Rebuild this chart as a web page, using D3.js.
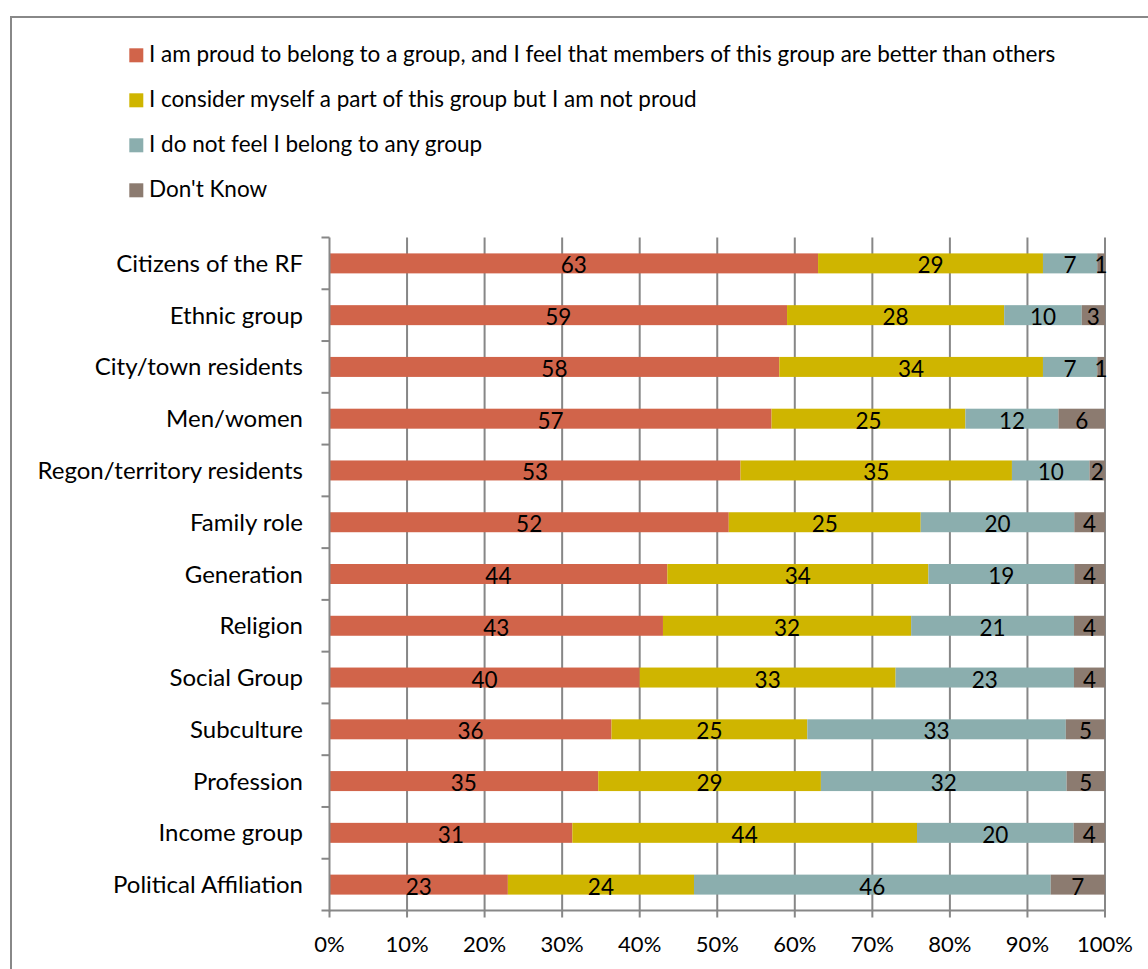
<!DOCTYPE html>
<html><head><meta charset="utf-8">
<script src="https://cdn.jsdelivr.net/npm/d3@7"></script>
<style>body{margin:0;background:#fff}svg{display:block}text{font-family:Lato,"Open Sans",sans-serif;fill:#000}</style>
</head><body><svg id="c" width="1148" height="969"></svg>
<script>
const categories = ["Citizens of the RF","Ethnic group","City/town residents","Men/women","Regon/territory residents","Family role","Generation","Religion","Social Group","Subculture","Profession","Income group","Political Affiliation"];
const seriesNames = ["I am proud to belong to a group, and I feel that members of this group are better than others","I consider myself a part of this group but I am not proud","I do not feel I belong to any group","Don't Know"];
const proud =    [63,59,58,57,53,52,44,43,40,36,35,31,23];
const notProud = [29,28,34,25,35,25,34,32,33,25,29,44,24];
const noGroup =  [7,10,7,12,10,20,19,21,23,33,32,20,46];
const dontKnow = [1,3,1,6,2,4,4,4,4,5,5,4,7];
const tickLabels = ["0%","10%","20%","30%","40%","50%","60%","70%","80%","90%","100%"];
const colors = ["#D1644A","#CFB500","#8BAEAE","#8C7B70"];

(function(){
const svg = d3.select("#c");
svg.append("rect").attr("x",11).attr("y",17).attr("width",1200).attr("height",1000).attr("fill","none").attr("stroke","#888").attr("stroke-width",2);

const pL=329.5,pR=1105,pT=237.5,pB=910.5;
const x = d3.scaleLinear().domain([0,1]).range([pL,pR]);
const y = d3.scaleBand().domain(categories).range([pT,pB]).paddingInner(0.614).paddingOuter(0.307);
const yb = d3.scaleBand().domain(categories).range([pT,pB]);

svg.append("g").selectAll("line").data(d3.range(1,11).map(i=>i/10)).join("line")
  .attr("x1",d=>x(d)).attr("x2",d=>x(d)).attr("y1",pT).attr("y2",pB)
  .attr("stroke","#878787").attr("stroke-width",2);

const rows = categories.map((c,i)=>{
  const vals=[proud[i],notProud[i],noGroup[i],dontKnow[i]];
  const tot=d3.sum(vals); let acc=0;
  return vals.map((v,k)=>{const s={cat:c,k,v,x0:acc/tot,x1:(acc+v)/tot}; acc+=v; return s;});
}).flat();

svg.append("g").selectAll("rect").data(rows).join("rect")
  .attr("x",d=>x(d.x0)).attr("width",d=>x(d.x1)-x(d.x0))
  .attr("y",d=>y(d.cat)).attr("height",y.bandwidth())
  .attr("fill",d=>colors[d.k]);

svg.append("g").selectAll("text").data(rows).join("text")
  .attr("x",d=>(x(d.x0)+x(d.x1))/2).attr("y",d=>y(d.cat)+y.bandwidth()/2+10)
  .attr("text-anchor","middle").attr("font-size",22.5).text(d=>d.v);

const ya = svg.append("g");
ya.append("line").attr("x1",pL).attr("x2",pL).attr("y1",pT).attr("y2",pB+1).attr("stroke","#878787").attr("stroke-width",2);
ya.selectAll("line.t").data(d3.range(0,14)).join("line").attr("class","t")
  .attr("x1",pL-8).attr("x2",pL).attr("y1",i=>pT+i*yb.step()).attr("y2",i=>pT+i*yb.step())
  .attr("stroke","#878787").attr("stroke-width",2);
ya.selectAll("text").data(categories).join("text")
  .attr("x",303).attr("y",d=>yb(d)+yb.bandwidth()/2+8.5).attr("text-anchor","end").attr("font-size",24).text(d=>d);

const xa = svg.append("g");
xa.append("line").attr("x1",pL).attr("x2",pR+1).attr("y1",pB).attr("y2",pB).attr("stroke","#878787").attr("stroke-width",2);
xa.selectAll("line.t").data(tickLabels).join("line").attr("class","t")
  .attr("x1",(d,i)=>x(i/10)).attr("x2",(d,i)=>x(i/10)).attr("y1",pB).attr("y2",pB+7)
  .attr("stroke","#878787").attr("stroke-width",2);
xa.selectAll("text").data(tickLabels).join("text")
  .attr("x",(d,i)=>x(i/10)).attr("y",952).attr("text-anchor","middle").attr("font-size",22).text(d=>d);

const lg = svg.append("g");
seriesNames.forEach((n,i)=>{
  const yy=48.3+i*45;
  lg.append("rect").attr("x",129.3).attr("y",yy).attr("width",14).attr("height",14).attr("fill",colors[i]);
  lg.append("text").attr("x",149).attr("y",yy+13.5).attr("font-size",22.5).text(n);
});
})();
</script></body></html>
